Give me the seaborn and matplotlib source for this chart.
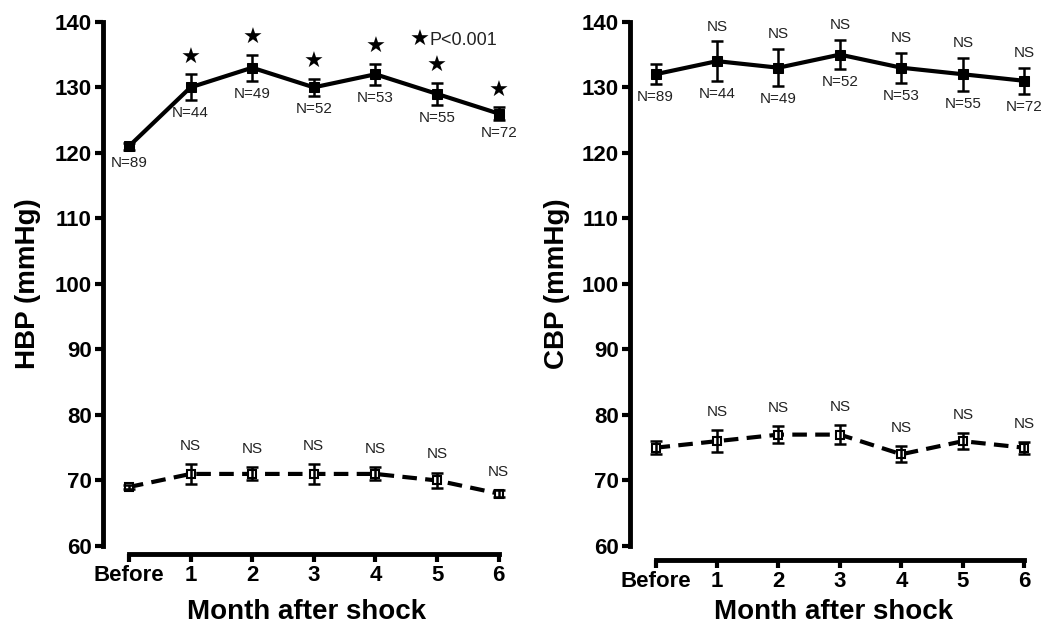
import numpy as np
import pandas as pd
import matplotlib
matplotlib.use("Agg")
import matplotlib.pyplot as plt
import seaborn as sns

months = ["Before", "1", "2", "3", "4", "5", "6"]
n_labels = ["N=89", "N=44", "N=49", "N=52", "N=53", "N=55", "N=72"]

hbp_sys = [121, 130, 133, 130, 132, 129, 126]
hbp_sys_err = [0.5, 2.0, 2.0, 1.3, 1.6, 1.7, 1.0]
hbp_dia = [69, 71, 71, 71, 71, 70, 68]
hbp_dia_err = [0.3, 1.5, 1.0, 1.5, 1.0, 1.2, 0.5]
hbp_sys_marks = ["", "★", "★", "★", "★", "★", "★"]

cbp_sys = [132, 134, 133, 135, 133, 132, 131]
cbp_sys_err = [1.5, 3.0, 2.8, 2.2, 2.3, 2.5, 2.0]
cbp_dia = [75, 76, 77, 77, 74, 76, 75]
cbp_dia_err = [1.0, 1.7, 1.3, 1.5, 1.2, 1.2, 0.9]
cbp_sys_marks = ["", "NS", "NS", "NS", "NS", "NS", "NS"]
dia_marks = ["", "NS", "NS", "NS", "NS", "NS", "NS"]

sns.set_theme(style="ticks")
plt.rcParams["font.family"] = ["Liberation Sans", "DejaVu Sans"]
plt.rcParams["text.color"] = "black"
plt.rcParams["axes.labelcolor"] = "black"

fig = plt.figure(figsize=(10.46, 6.24), dpi=100)
ax1 = fig.add_axes([0.0985, 0.125, 0.39, 0.84])
ax2 = fig.add_axes([0.602, 0.125, 0.389, 0.84])

x = np.arange(len(months))

def panel(ax, sys_v, sys_e, dia_v, dia_e, ylabel, sys_marks, star, offset, ylx):
    df = pd.DataFrame({"x": np.concatenate([x, x]),
                       "y": sys_v + dia_v,
                       "series": ["sys"] * len(x) + ["dia"] * len(x)})
    sns.lineplot(data=df[df.series == "sys"], x="x", y="y", ax=ax, color="black",
                 lw=3, marker="s", markersize=7, markeredgecolor="black", legend=False)
    sns.lineplot(data=df[df.series == "dia"], x="x", y="y", ax=ax, color="black",
                 lw=3, linestyle=(0, (3.5, 2)), marker="s", markersize=6,
                 markerfacecolor="white", markeredgecolor="black", markeredgewidth=1.5,
                 legend=False)
    ax.errorbar(x, sys_v, yerr=sys_e, fmt="none", ecolor="black", elinewidth=1.8,
                capsize=4, capthick=1.8)
    ax.errorbar(x, dia_v, yerr=dia_e, fmt="none", ecolor="black", elinewidth=1.8,
                capsize=4, capthick=1.8)
    for xi, v, e, n, m in zip(x, sys_v, sys_e, n_labels, sys_marks):
        ax.text(xi, v - e - 0.9, n, ha="center", va="top", fontsize=11, color="#222222")
        if m:
            if star:
                ax.text(xi, v + e + 1.0, m, ha="center", va="bottom", fontsize=16,
                        color="black", family=["DejaVu Sans"])
            else:
                ax.text(xi, v + e + 1.2, m, ha="center", va="bottom", fontsize=11,
                        color="#222222")
    for xi, v, e, m in zip(x, dia_v, dia_e, dia_marks):
        if m:
            ax.text(xi, v + e + 1.7, m, ha="center", va="bottom", fontsize=11,
                    color="#222222")
    ax.set_xlim(-0.42, 6.2)
    ax.set_ylim(60, 140)
    sns.despine(ax=ax)
    ax.spines["bottom"].set_position(("outward", offset))
    ax.spines["bottom"].set_bounds(0, 6)
    for s in ["left", "bottom"]:
        ax.spines[s].set_linewidth(3.5)
        ax.spines[s].set_color("black")
    ax.set_yticks(range(60, 141, 10))
    ax.set_yticklabels([str(v) for v in range(60, 141, 10)], fontsize=16,
                       fontweight="bold")
    ax.set_xticks(x)
    ax.set_xticklabels(months, fontsize=16, fontweight="bold")
    ax.tick_params(width=3, length=6, pad=2, colors="black")
    ax.set_xlabel("Month after shock", fontsize=20, fontweight="bold", color="black")
    ax.set_ylabel(ylabel, fontsize=20, fontweight="bold", color="black")
    ax.yaxis.set_label_coords(ylx, 0.5)
    ax.xaxis.set_label_coords(0.5, -0.125)
    ax.xaxis.label.set_va("center")
    ax.yaxis.label.set_va("center")

panel(ax1, hbp_sys, hbp_sys_err, hbp_dia, hbp_dia_err, "HBP (mmHg)", hbp_sys_marks,
      True, 6, -0.185)
panel(ax2, cbp_sys, cbp_sys_err, cbp_dia, cbp_dia_err, "CBP (mmHg)", cbp_sys_marks,
      False, 10, -0.178)

ax1.text(4.72, 137.2, "★", ha="center", va="center", fontsize=16, family=["DejaVu Sans"])
ax1.text(4.88, 137.2, "P<0.001", ha="left", va="center", fontsize=13, color="#222222")

fig.savefig("out.png", dpi=100)
